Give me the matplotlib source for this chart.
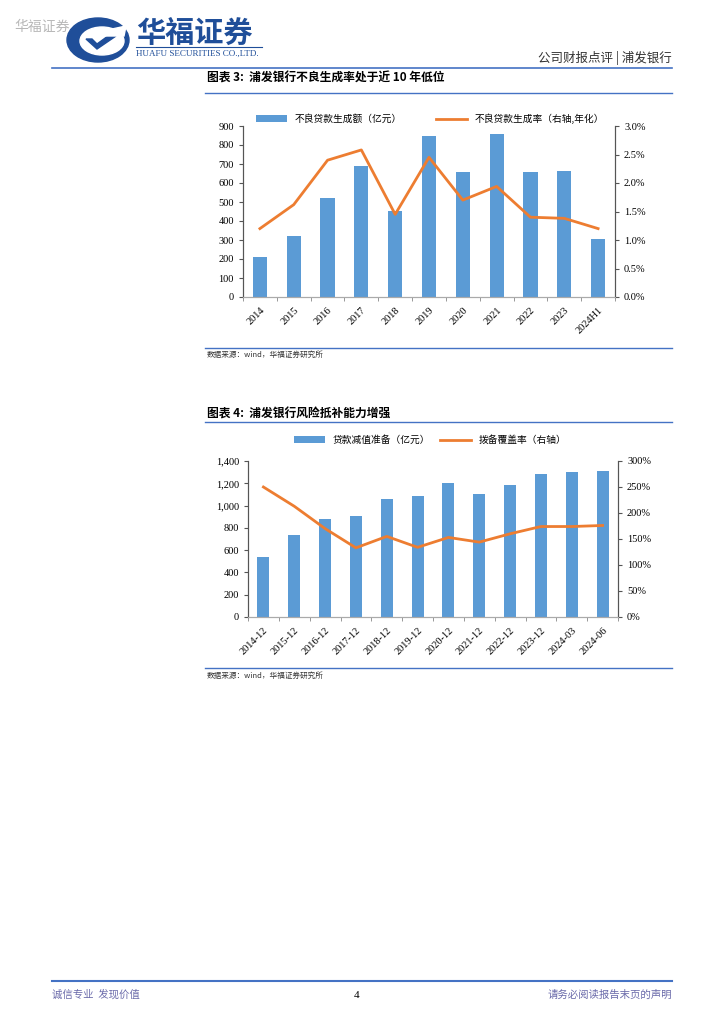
import numpy as np
import matplotlib.pyplot as plt
from matplotlib.patches import Ellipse, Polygon
from matplotlib.ticker import FuncFormatter, MultipleLocator

plt.rcParams['font.family'] = ['Noto Sans CJK SC', 'DejaVu Sans']

# chart 3 data
years = ['2014', '2015', '2016', '2017', '2018', '2019', '2020', '2021', '2022', '2023', '2024H1']
npl_new = [208, 320, 520, 690, 453, 848, 657, 860, 657, 663, 305]
npl_rate = [1.20, 1.62, 2.40, 2.58, 1.45, 2.45, 1.70, 1.94, 1.40, 1.38, 1.20]

# chart 4 data
periods = ['2014-12', '2015-12', '2016-12', '2017-12', '2018-12', '2019-12', '2020-12',
           '2021-12', '2022-12', '2023-12', '2024-03', '2024-06']
provisions = [540, 740, 877, 905, 1057, 1083, 1200, 1103, 1187, 1285, 1297, 1310]
coverage = [250, 213, 170, 133, 155, 134, 153, 144, 160, 174, 174, 176]

BAR = '#5B9BD5'
LINE = '#ED7D31'
NAVY = '#1F4E99'
SERIF = ['Liberation Serif', 'Noto Sans CJK SC']

W, H = 724, 1024
fig = plt.figure(figsize=(W / 100, H / 100), dpi=100)


def px(x, y):
    return x / W, 1 - y / H


def hline(y, x0, x1, color='#4472C4', lw=1.2):
    fig.add_artist(plt.Line2D([x0 / W, x1 / W], [1 - y / H, 1 - y / H], color=color, lw=lw))


# header
fig.text(*px(14, 27), '华福证券', fontsize=10, color='#B8B8B8', va='center')
lax = fig.add_axes([64 / W, 1 - 66 / H, 68 / W, 52 / H])
lax.set_xlim(0, 68)
lax.set_ylim(0, 52)
lax.axis('off')
lax.add_patch(Ellipse((34, 26), 62, 44, color=NAVY))
lax.add_patch(Ellipse((38, 25), 44, 28, color='white'))
lax.add_patch(Polygon([[22, 27], [33, 17], [52, 30], [44, 30], [33, 22], [28, 27]], color=NAVY))
lax.add_patch(Polygon([[40, 30], [60, 30], [62, 40], [48, 37]], color='white'))
fig.text(*px(136, 33), '华福证券', fontsize=21, fontweight='bold', color=NAVY, va='center')
hline(47, 136, 262, color=NAVY, lw=0.8)
fig.text(*px(136, 54), 'HUAFU SECURITIES CO.,LTD.', fontsize=6.5, color=NAVY, va='center',
         family=SERIF)
fig.text(*px(672, 58), '公司财报点评 | 浦发银行', fontsize=9, color='#333333', ha='right', va='center')
hline(68, 52, 672)

# chart 3
fig.text(*px(207, 78), '图表 3:  浦发银行不良生成率处于近 10 年低位', fontsize=8.5, fontweight='bold', va='center')
hline(93, 205, 672, lw=1.0)
hline(348, 205, 672, lw=1.0)
fig.text(*px(207, 355), '数据来源：wind，华福证券研究所', fontsize=5.5, color='#333333', va='center')

# chart 4
fig.text(*px(207, 414), '图表 4:  浦发银行风险抵补能力增强', fontsize=8.5, fontweight='bold', va='center')
hline(422, 205, 672, lw=1.0)
hline(668, 205, 672, lw=1.0)
fig.text(*px(207, 676), '数据来源：wind，华福证券研究所', fontsize=5.5, color='#333333', va='center')

# footer
hline(981, 52, 672, lw=1.5)
fig.text(*px(52, 995), '诚信专业  发现价值', fontsize=7.5, color='#6A6AAA', va='center')
fig.text(*px(357, 995), '4', fontsize=8, va='center', ha='center', family=SERIF)
fig.text(*px(672, 995), '请务必阅读报告末页的声明', fontsize=7.5, color='#6A6AAA', va='center', ha='right')


def style_axes(ax, ax2, labels):
    n = len(labels)
    ax.set_xlim(-0.5, n - 0.5)
    ax.set_xticks(np.arange(n))
    ax.set_xticklabels(labels, rotation=45, ha='right', rotation_mode='anchor', family=SERIF, fontsize=7.5)
    ax.set_xticks(np.arange(n + 1) - 0.5, minor=True)
    ax.tick_params(axis='x', which='major', length=0, pad=6)
    ax.tick_params(axis='x', which='minor', length=3, color='#888888', direction='out')
    ax.tick_params(axis='y', length=3, labelsize=7.5, color='#555555')
    ax2.tick_params(axis='y', length=3, labelsize=7.5, color='#555555')
    for lab in ax.get_yticklabels() + ax2.get_yticklabels():
        lab.set_family(SERIF)
    for a in (ax, ax2):
        a.spines['top'].set_visible(False)
        a.spines['left'].set_color('#555555')
        a.spines['right'].set_color('#555555')
        a.spines['bottom'].set_color('#AAAAAA')
        a.patch.set_visible(False)


ax1 = fig.add_axes([243 / W, 1 - 297 / H, (615 - 243) / W, (297 - 126) / H])
ax1b = ax1.twinx()
x1 = np.arange(len(years))
b1 = ax1.bar(x1, npl_new, width=0.42, color=BAR, label='不良贷款生成额（亿元）')
l1, = ax1b.plot(x1, npl_rate, color=LINE, lw=2, label='不良贷款生成率（右轴,年化）')
ax1.set_ylim(0, 900)
ax1.yaxis.set_major_locator(MultipleLocator(100))
ax1b.set_ylim(0, 3.0)
ax1b.yaxis.set_major_locator(MultipleLocator(0.5))
ax1b.yaxis.set_major_formatter(FuncFormatter(lambda v, p: f'{v:.1f}%'))
style_axes(ax1, ax1b, years)
fig.legend([b1, l1], [b1.get_label(), l1.get_label()], loc='center', bbox_to_anchor=px(430, 119),
           ncol=2, frameon=False, fontsize=7, handlelength=3.2, handleheight=0.7, columnspacing=3.5,
           borderpad=0)

ax2 = fig.add_axes([248 / W, 1 - 617 / H, (618 - 248) / W, (617 - 461) / H])
ax2b = ax2.twinx()
x2 = np.arange(len(periods))
b2 = ax2.bar(x2, provisions, width=0.39, color=BAR, label='贷款减值准备（亿元）')
l2, = ax2b.plot(x2, coverage, color=LINE, lw=2, label='拨备覆盖率（右轴）')
ax2.set_ylim(0, 1400)
ax2.yaxis.set_major_locator(MultipleLocator(200))
ax2.yaxis.set_major_formatter(FuncFormatter(lambda v, p: f'{v:,.0f}'))
ax2b.set_ylim(0, 300)
ax2b.yaxis.set_major_locator(MultipleLocator(50))
ax2b.yaxis.set_major_formatter(FuncFormatter(lambda v, p: f'{v:.0f}%'))
style_axes(ax2, ax2b, periods)
fig.legend([b2, l2], [b2.get_label(), l2.get_label()], loc='center', bbox_to_anchor=px(430, 440),
           ncol=2, frameon=False, fontsize=7, handlelength=3.2, handleheight=0.7, columnspacing=1.0,
           borderpad=0)

fig.savefig('out.png', dpi=100)
